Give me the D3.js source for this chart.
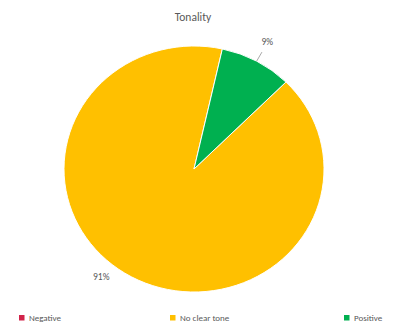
<!DOCTYPE html>
<html>
<head>
<meta charset="utf-8">
<script src="https://cdn.jsdelivr.net/npm/d3@7"></script>
<style>
  body { margin: 0; background: #fff; }
  text { font-family: Calibri, "Liberation Sans", "Open Sans", sans-serif; fill: #595959; }
</style>
</head>
<body>
<svg id="chart"></svg>
<script>
const categories = ["Negative", "No clear tone", "Positive"];
const values = [0, 91, 9];
const colors = ["#d1234a", "#ffc000", "#00b050"];
const title = "Tonality";

const width = 410, height = 333;
const cx = 194, cy = 169;
const radius = 130;
const squash = 123 / 130; // the picture is slightly flattened

const svg = d3.select("#chart")
    .attr("width", width)
    .attr("height", height);

svg.append("text")
    .attr("x", 193)
    .attr("y", 21)
    .attr("text-anchor", "middle")
    .style("font-size", "11.5px")
    .text(title);

const data = categories.map((c, i) => ({cat: c, value: values[i], color: colors[i]}));

const pie = d3.pie()
    .value(d => d.value)
    .sort(null)
    .startAngle(Math.PI / 4)
    .endAngle(Math.PI / 4 + 2 * Math.PI);

const arcs = pie(data);
const arc = d3.arc().innerRadius(0).outerRadius(radius);

const g = svg.append("g")
    .attr("transform", `translate(${cx},${cy}) scale(1,${squash})`);

g.selectAll("path")
    .data(arcs.filter(d => d.data.value > 0))
    .join("path")
    .attr("d", arc)
    .attr("fill", d => d.data.color)
    .attr("stroke", "#fff")
    .attr("stroke-width", 1);

// data labels
const pt = (a, r) => [cx + r * Math.sin(a), cy - r * Math.cos(a) * squash];
const labelShift = {"No clear tone": 10 * Math.PI / 180, "Positive": 0};
const labelRadius = {"No clear tone": 148, "Positive": 152};

arcs.filter(d => d.data.value > 0).forEach(d => {
    const mid = (d.startAngle + d.endAngle) / 2 + labelShift[d.data.cat];
    const [lx, ly] = pt(mid, labelRadius[d.data.cat]);
    if (d.data.cat === "Positive") {
        const [x1, y1] = pt(mid, radius);
        const [x2, y2] = pt(mid, radius + 11);
        svg.append("line")
            .attr("x1", x1).attr("y1", y1)
            .attr("x2", x2).attr("y2", y2)
            .attr("stroke", "#8c8c8c")
            .attr("stroke-width", 0.75);
    }
    svg.append("text")
        .attr("x", lx)
        .attr("y", ly)
        .attr("text-anchor", "middle")
        .attr("dominant-baseline", "middle")
        .style("font-size", "9.5px")
        .text(Math.round(d.data.value) + "%");
});

// legend
const legendX = d3.scaleOrdinal()
    .domain(categories)
    .range([22, 173, 347]);

const legend = svg.append("g")
    .selectAll("g")
    .data(data)
    .join("g")
    .attr("transform", d => `translate(${legendX(d.cat)},318)`);

legend.append("rect")
    .attr("x", -3).attr("y", -3)
    .attr("width", 5.5).attr("height", 5.5)
    .attr("fill", d => d.color);

legend.append("text")
    .attr("x", 7)
    .attr("y", 0.5)
    .attr("dominant-baseline", "middle")
    .style("font-size", "9px")
    .text(d => d.cat);
</script>
</body>
</html>
